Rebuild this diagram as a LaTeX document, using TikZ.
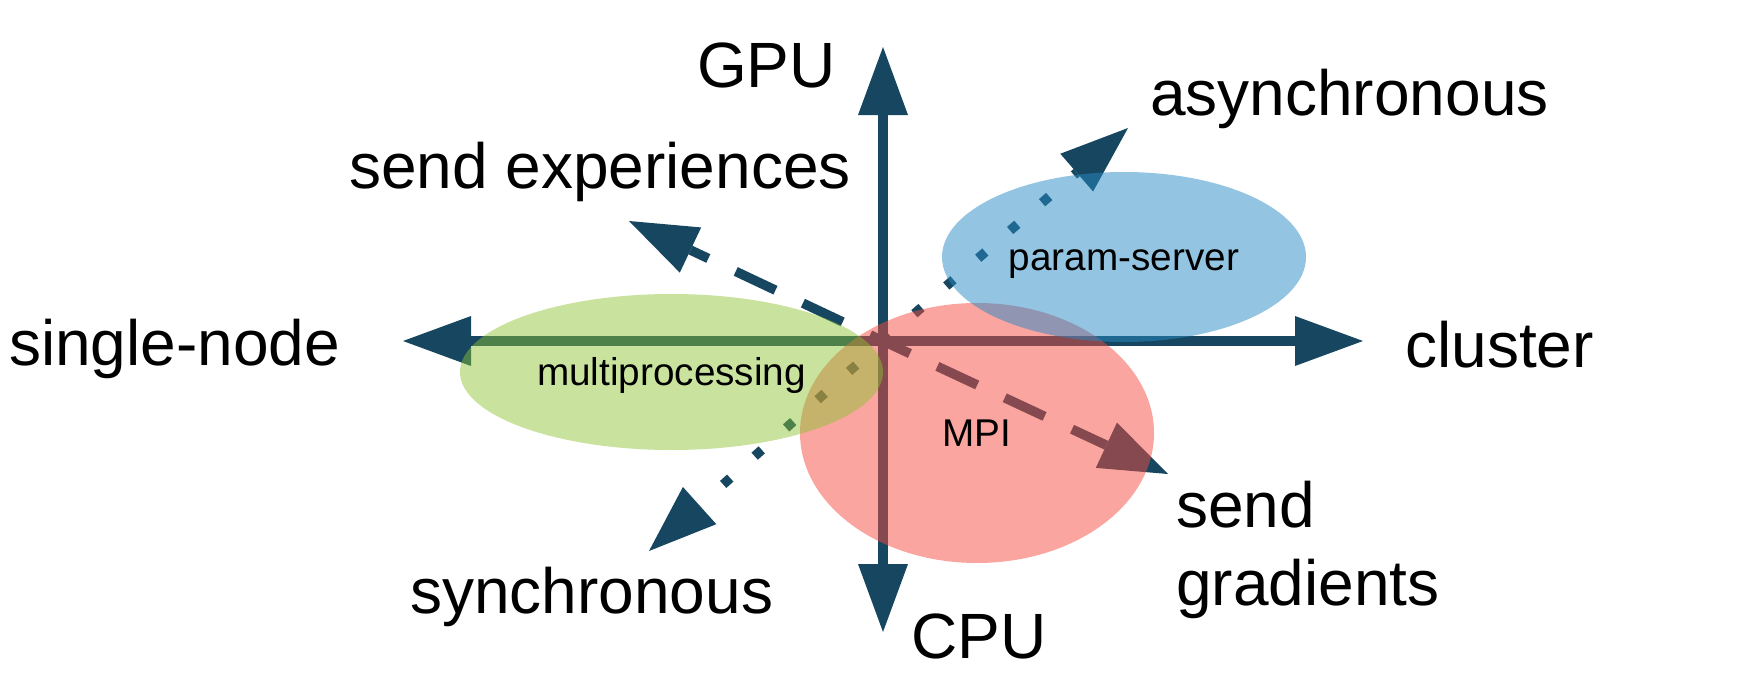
\documentclass[tikz,border=0pt]{standalone}
\usepackage{fontspec}
\setmainfont{Liberation Sans}
\usetikzlibrary{arrows.meta,shapes.geometric}
\definecolor{axiscol}{RGB}{23,71,96}
\definecolor{redfill}{RGB}{245,75,65}
\definecolor{greenfill}{RGB}{140,194,49}
\definecolor{bluefill}{RGB}{39,137,197}
\begin{document}
\begin{tikzpicture}[x=1pt,y=-1pt,
  >={Triangle[length=68pt,width=50pt,line width=0pt]},
  axisline/.style={draw=axiscol, line width=9.5pt},
  dashline/.style={draw=axiscol, line width=9.5pt, dash pattern=on 44pt off 30.3pt},
  dotline/.style={draw=axiscol, line width=9.5pt, dash pattern=on 9.5pt off 32.8pt},
  biglabel/.style={font=\fontsize{64pt}{78pt}\selectfont, inner sep=0pt, anchor=base west, text=black},
  blob/.style={ellipse, inner sep=0pt, text opacity=1, text=black,
    font=\fontsize{38.7pt}{46pt}\selectfont, text height=28pt, text depth=2pt}
]
\path[use as bounding box] (0,0) rectangle (1746,696);

% axis and arrow end points
\coordinate (O) at (883,341);
\coordinate (Ntip) at (883,47);
\coordinate (Stip) at (883,632);
\coordinate (Wtip) at (403,341);
\coordinate (Etip) at (1363,341);
\coordinate (ULtip) at (629,221);
\coordinate (LRtip) at (1168,474);
\coordinate (URtip) at (1128,128);
\coordinate (LLtip) at (649,551);

% axes
\draw[axisline, <->] (Wtip) -- (Etip);
\draw[axisline, <->] (Stip) -- (Ntip);

% dashed: send experiences / send gradients
\draw[dashline, dash phase=29.7pt, ->] (O) -- (ULtip);
\draw[dashline, dash phase=14.3pt, ->] (O) -- (LRtip);

% dotted: asynchronous / synchronous
\draw[dotline, dash phase=0.75pt, ->] (O) -- (URtip);
\draw[dotline, dash phase=6.25pt, ->] (O) -- (LLtip);

% regions
\node[blob, fill=redfill, fill opacity=0.5, minimum width=354pt, minimum height=260pt] (mpi) at (977,433) {MPI};
\node[blob, fill=greenfill, fill opacity=0.47, minimum width=423pt, minimum height=156pt] (mp) at (671.5,372) {multiprocessing};
\node[blob, fill=bluefill, fill opacity=0.5, minimum width=364pt, minimum height=170pt] (ps) at (1124,257) {param-server};

% labels
\node[biglabel] (gpu) at (697,87) {GPU};
\node[biglabel] (cpu) at (911,658) {CPU};
\node[biglabel] (single) at (9,365) {single-node};
\node[biglabel] (cluster) at (1405,367) {cluster};
\node[biglabel] (sendexp) at (349,188) {send experiences};
\node[biglabel] (async) at (1150,115) {asynchronous};
\node[biglabel] (sync) at (410,613) {synchronous};
\node[biglabel, align=left] (sendgrad) at (1176,605) {send\\gradients};
\end{tikzpicture}
\end{document}
